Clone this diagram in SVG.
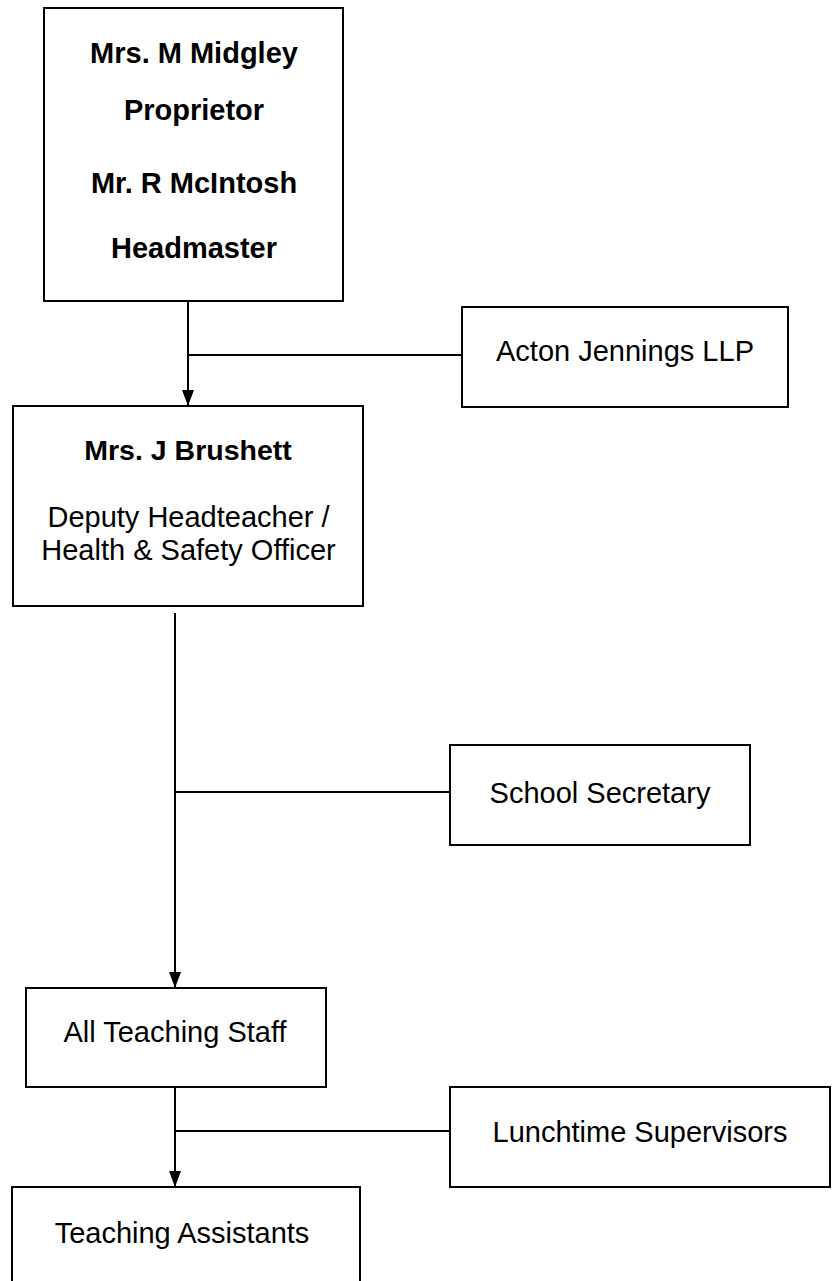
<svg xmlns="http://www.w3.org/2000/svg" width="835" height="1281" viewBox="0 0 835 1281">
<style>
.box{fill:#fff;stroke:#000;stroke-width:2}
.t{font-family:"Liberation Sans",Arial,sans-serif;font-size:29px;fill:#000;text-anchor:middle}
.b{font-weight:bold}
.ln{stroke:#000;stroke-width:2;fill:none}
</style>
<defs>
<marker id="arr" viewBox="0 0 16 12" refX="16" refY="6" markerWidth="16" markerHeight="12" markerUnits="userSpaceOnUse" orient="auto">
<path d="M0,0 L16,6 L0,12 Z" fill="#000"/>
</marker>
</defs>
<rect width="835" height="1281" fill="#fff"/>
<g id="connectors">
<line class="ln" x1="188" y1="302" x2="188" y2="406" marker-end="url(#arr)"/>
<line class="ln" x1="188" y1="355" x2="462" y2="355"/>
<line class="ln" x1="175" y1="613" x2="175" y2="988" marker-end="url(#arr)"/>
<line class="ln" x1="175" y1="792" x2="450" y2="792"/>
<line class="ln" x1="175" y1="1088" x2="175" y2="1187" marker-end="url(#arr)"/>
<line class="ln" x1="175" y1="1131" x2="450" y2="1131"/>
</g>
<g id="n-midgley">
<rect class="box" x="44" y="8" width="299" height="293"/>
<text class="t b" x="194" y="63">Mrs. M Midgley</text>
<text class="t b" x="194" y="120">Proprietor</text>
<text class="t b" x="194" y="193">Mr. R McIntosh</text>
<text class="t b" x="194" y="258">Headmaster</text>
</g>
<g id="n-acton">
<rect class="box" x="462" y="307" width="326" height="100"/>
<text class="t" x="625" y="361">Acton Jennings LLP</text>
</g>
<g id="n-brushett">
<rect class="box" x="13" y="406" width="350" height="200"/>
<text class="t b" x="188" y="460" style="font-size:28.5px">Mrs. J Brushett</text>
<text class="t" x="188.5" y="527">Deputy Headteacher /</text>
<text class="t" x="188.5" y="560">Health &amp; Safety Officer</text>
</g>
<g id="n-secretary">
<rect class="box" x="450" y="745" width="300" height="100"/>
<text class="t" x="600" y="803">School Secretary</text>
</g>
<g id="n-teaching">
<rect class="box" x="26" y="988" width="300" height="99"/>
<text class="t" x="175" y="1042">All Teaching Staff</text>
</g>
<g id="n-lunchtime">
<rect class="box" x="450" y="1087" width="380" height="100"/>
<text class="t" x="640" y="1142">Lunchtime Supervisors</text>
</g>
<g id="n-assistants">
<rect class="box" x="12" y="1187" width="348" height="110"/>
<text class="t" x="182" y="1243">Teaching Assistants</text>
</g>
</svg>
